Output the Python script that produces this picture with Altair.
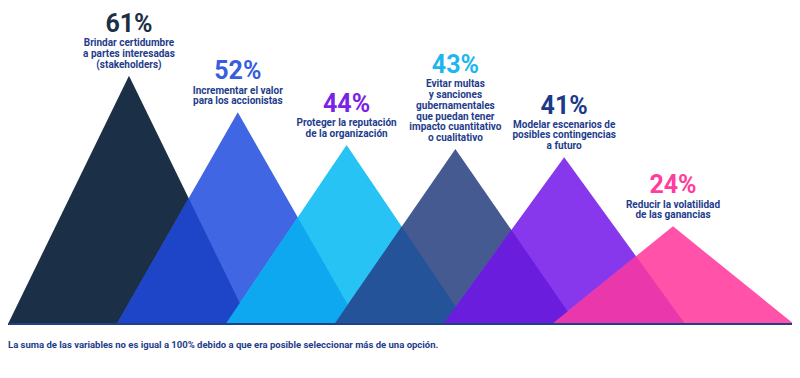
import altair as alt
import pandas as pd

# ---- data ----
values = [61, 52, 44, 43, 41, 24]
pct_text = ["61%", "52%", "44%", "43%", "41%", "24%"]
descriptions = [
    ["Brindar certidumbre", "a partes interesadas", "(stakeholders)"],
    ["Incrementar el valor", "para los accionistas"],
    ["Proteger la reputación", "de la organización"],
    ["Evitar multas", "y sanciones", "gubernamentales", "que puedan tener",
     "impacto cuantitativo", "o cualitativo"],
    ["Modelar escenarios de", "posibles contingencias", "a futuro"],
    ["Reducir la volatilidad", "de las ganancias"],
]
tri_colors = ["#1b2f46", "#4066e3", "#27c3f5", "#465a92", "#8838ec", "#ff52a8"]
overlap_colors = ["#1e45c8", "#0ea8f0", "#24539a", "#6a1ddc", "#ea38ac"]
pct_colors = ["#1b2f46", "#3a5de0", "#7a22e8", "#1fb6ef", "#1a3a8a", "#ff3d9e"]
footnote = ("La suma de las variables no es igual a 100% debido a que era "
            "posible seleccionar más de una opción.")

# ---- layout constants ----
W, H = 784, 362
HW = 1.112            # half base width of each triangle (in spacing units)
XMIN, XMAX = -HW, -HW + W / 108.8
PX = 4.07             # pixels per percentage point
BASE_PX = 316         # baseline position from top (px)
YMAX = BASE_PX / PX
YMIN = -(H - BASE_PX) / PX
LH = 10.7             # label line height
GAP = 6               # gap between apex and label block (px)
PGAP = 5.5            # gap between label block and percentage (px)
TXT = "#1e3c8c"
FONT = "Roboto"

xs = alt.Scale(domain=[XMIN, XMAX], nice=False, zero=False)
ys = alt.Scale(domain=[YMIN, YMAX], nice=False, zero=False)

# triangles
tri_rows = []
for i, v in enumerate(values):
    for x, y in [(i - HW, 0), (i, v), (i + HW, 0)]:
        tri_rows.append({"grp": f"t{i}", "x": x, "y": y, "y0": 0, "color": tri_colors[i]})
tri_df = pd.DataFrame(tri_rows)

# overlaps of neighbouring triangles
ov_rows = []
for i in range(len(values) - 1):
    v1, v2 = values[i], values[i + 1]
    a = i + HW
    b = i + 1 - HW
    xi = (v1 * a + v2 * b) / (v1 + v2)
    yi = v1 * (a - xi) / HW
    for x, y in [(b, 0), (xi, yi), (a, 0)]:
        ov_rows.append({"grp": f"o{i}", "x": x, "y": y, "y0": 0, "color": overlap_colors[i]})
ov_df = pd.DataFrame(ov_rows)

# description lines, one row per line
line_rows = []
for i, (v, d) in enumerate(zip(values, descriptions)):
    n = len(d)
    for k, line in enumerate(d):
        line_rows.append({"x": i, "y": v + (GAP + (n - 1 - k) * LH) / PX, "t": line})
line_df = pd.DataFrame(line_rows)

lab_df = pd.DataFrame({
    "x": list(range(len(values))),
    "pct": pct_text,
    "pcolor": pct_colors,
    "ypct": [v + (GAP + len(d) * LH + PGAP) / PX for v, d in zip(values, descriptions)],
})


def area_layer(df):
    return alt.Chart(df).mark_area(interpolate="linear").encode(
        x=alt.X("x:Q", scale=xs, axis=None),
        y=alt.Y("y:Q", scale=ys, axis=None),
        y2=alt.Y2("y0:Q"),
        color=alt.Color("color:N", scale=None),
        detail="grp:N",
    )


tris = area_layer(tri_df)
ovs = area_layer(ov_df)

base = alt.Chart(pd.DataFrame({"y": [0]})).mark_rule(
    color="#1f3f8f", strokeWidth=2
).encode(
    y=alt.Y("y:Q", scale=ys, axis=None),
    x=alt.value(0),
    x2=alt.value(W),
)

desc = alt.Chart(line_df).mark_text(
    font=FONT, fontWeight="bold", fontSize=10,
    baseline="bottom", align="center", color=TXT,
).encode(
    x=alt.X("x:Q", scale=xs, axis=None),
    y=alt.Y("y:Q", scale=ys, axis=None),
    text="t:N",
)

pct = alt.Chart(lab_df).mark_text(
    font=FONT, fontWeight="bold", fontSize=25,
    baseline="alphabetic", align="center",
).encode(
    x=alt.X("x:Q", scale=xs, axis=None),
    y=alt.Y("ypct:Q", scale=ys, axis=None),
    text="pct:N",
    color=alt.Color("pcolor:N", scale=None),
)

note = alt.Chart(pd.DataFrame({"t": [footnote]})).mark_text(
    font=FONT, fontWeight="bold", fontSize=9.5, align="left",
    baseline="middle", color=TXT,
).encode(
    x=alt.value(0),
    y=alt.value(337),
    text="t:N",
)

chart = alt.layer(tris, ovs, base, desc, pct, note).properties(
    width=W, height=H, padding=0,
    autosize=alt.AutoSizeParams(type="none"),
).configure_view(stroke=None)

chart.save("out.html", embed_options={"renderer": "svg", "actions": False})
